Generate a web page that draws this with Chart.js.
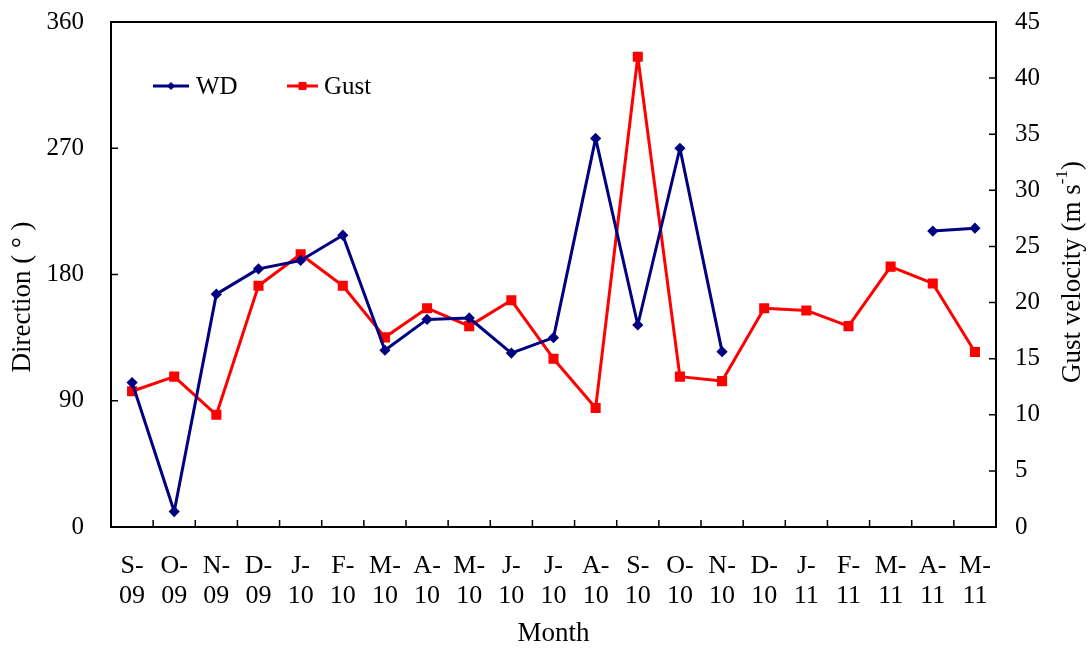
<!DOCTYPE html>
<html>
<head>
<meta charset="utf-8">
<script src="https://cdn.jsdelivr.net/npm/chart.js@4.4.1/dist/chart.umd.min.js"></script>
<style>
  body { margin: 0; background: #fff; }
  #wrap { width: 1088px; height: 648px; }
</style>
</head>
<body>
<div id="wrap"><canvas id="chart" width="1088" height="648"></canvas></div>
<script>
// data
const months = [
  ['S-', '09'], ['O-', '09'], ['N-', '09'], ['D-', '09'], ['J-', '10'], ['F-', '10'], ['M-', '10'],
  ['A-', '10'], ['M-', '10'], ['J-', '10'], ['J-', '10'], ['A-', '10'], ['S-', '10'], ['O-', '10'],
  ['N-', '10'], ['D-', '10'], ['J-', '11'], ['F-', '11'], ['M-', '11'], ['A-', '11'], ['M-', '11']
];
const windDir = [103, 11, 166, 184, 190, 208, 126, 148, 149, 124, 135, 277, 144, 270, 125, null, null, null, null, 211, 213];
const gust = [12.1, 13.4, 10.0, 21.5, 24.3, 21.5, 16.9, 19.5, 17.9, 20.2, 15.0, 10.6, 41.9, 13.4, 13.0, 19.5, 19.3, 17.9, 23.2, 21.7, 15.6];
const dirTicks = { min: 0, max: 360, step: 90 };
const gustTicks = { min: 0, max: 45, step: 5 };

const FONT = '"Liberation Serif", "Times New Roman", serif';
const NAVY = '#000080';
const RED = '#ff0000';

// inward tick marks + frame (Excel style)
const framePlugin = {
  id: 'frame',
  afterDraw(chart) {
    const ctx = chart.ctx;
    const a = chart.chartArea;
    const tl = 7;
    ctx.save();
    ctx.strokeStyle = '#000';
    ctx.lineWidth = 1.5;
    ctx.beginPath();
    const y = chart.scales.y;
    y.ticks.forEach(t => {
      const py = y.getPixelForValue(t.value);
      ctx.moveTo(a.left, py); ctx.lineTo(a.left + tl, py);
    });
    const y1 = chart.scales.y1;
    y1.ticks.forEach(t => {
      const py = y1.getPixelForValue(t.value);
      ctx.moveTo(a.right - tl, py); ctx.lineTo(a.right, py);
    });
    const x = chart.scales.x;
    for (let i = 1; i < months.length; i++) {
      const px = (x.getPixelForValue(i - 1) + x.getPixelForValue(i)) / 2;
      ctx.moveTo(px, a.bottom); ctx.lineTo(px, a.bottom - tl);
    }
    ctx.stroke();
    ctx.lineWidth = 2;
    ctx.strokeRect(a.left, a.top, a.right - a.left, a.bottom - a.top);
    ctx.restore();
  }
};

// axis titles, right one has a superscript
const titlePlugin = {
  id: 'titles',
  afterDraw(chart) {
    const ctx = chart.ctx;
    const a = chart.chartArea;
    ctx.save();
    ctx.fillStyle = '#000';
    ctx.font = '27px ' + FONT;
    ctx.textAlign = 'center';
    ctx.textBaseline = 'middle';
    ctx.fillText('Month', (a.left + a.right) / 2, 634);

    ctx.save();
    ctx.translate(23, 297);
    ctx.rotate(-Math.PI / 2);
    ctx.fillText('Direction ( ° )', 0, 0);
    ctx.restore();

    ctx.save();
    ctx.translate(1073, 272);
    ctx.rotate(-Math.PI / 2);
    const p1 = 'Gust velocity (m s', sup = '-1', p2 = ')';
    ctx.font = '27px ' + FONT;
    const w1 = ctx.measureText(p1).width;
    const w3 = ctx.measureText(p2).width;
    ctx.font = '17px ' + FONT;
    const w2 = ctx.measureText(sup).width;
    let sx = -(w1 + w2 + w3) / 2;
    ctx.textAlign = 'left';
    ctx.font = '27px ' + FONT;
    ctx.fillText(p1, sx, 0);
    ctx.font = '17px ' + FONT;
    ctx.fillText(sup, sx + w1, -10);
    ctx.font = '27px ' + FONT;
    ctx.fillText(p2, sx + w1 + w2, 0);
    ctx.restore();
    ctx.restore();
  }
};

// legend drawn inside the plot, top-left
const legendPlugin = {
  id: 'innerLegend',
  afterDraw(chart) {
    const ctx = chart.ctx;
    const items = [
      { label: 'WD', color: NAVY, x0: 153, x1: 189, tx: 196, style: 'rectRot', r: 3.5 },
      { label: 'Gust', color: RED, x0: 287, x1: 318, tx: 324, style: 'rect', r: 5 }
    ];
    const ly = 86;
    ctx.save();
    items.forEach(it => {
      ctx.strokeStyle = it.color;
      ctx.lineWidth = 3;
      ctx.beginPath();
      ctx.moveTo(it.x0, ly); ctx.lineTo(it.x1, ly);
      ctx.stroke();
      ctx.fillStyle = it.color;
      ctx.lineWidth = 1;
      Chart.helpers.drawPoint(ctx, { pointStyle: it.style, radius: it.r, borderWidth: 1, rotation: 0 }, (it.x0 + it.x1) / 2, ly);
      ctx.fillStyle = '#000';
      ctx.font = '25px ' + FONT;
      ctx.textAlign = 'left';
      ctx.textBaseline = 'middle';
      ctx.fillText(it.label, it.tx, ly + 1);
    });
    ctx.restore();
  }
};

const xFont = { family: FONT, size: 26, lineHeight: 1.15 };
const yFont = { family: FONT, size: 25 };

// keep the plot box where the figure has it: fixed axis sizes, no label overhang padding
function fixY(width) {
  return s => { s.width = width; s.paddingTop = 0; s.paddingBottom = 0; };
}

new Chart(document.getElementById('chart'), {
  type: 'line',
  data: {
    labels: months,
    datasets: [
      {
        label: 'WD',
        data: windDir,
        yAxisID: 'y',
        borderColor: NAVY,
        backgroundColor: NAVY,
        borderWidth: 3,
        borderJoinStyle: 'round',
        pointStyle: 'rectRot',
        pointRadius: 3.5,
        spanGaps: false,
        tension: 0
      },
      {
        label: 'Gust',
        data: gust,
        yAxisID: 'y1',
        borderColor: RED,
        backgroundColor: RED,
        borderWidth: 3,
        borderJoinStyle: 'round',
        pointStyle: 'rect',
        pointRadius: 5,
        tension: 0
      }
    ]
  },
  options: {
    responsive: false,
    animation: false,
    layout: { padding: { top: 22 } },
    plugins: { legend: { display: false }, tooltip: { enabled: false } },
    scales: {
      x: {
        offset: true,
        grid: { display: false, drawTicks: false },
        border: { display: false },
        ticks: { font: xFont, color: '#000', padding: 24, maxRotation: 0, autoSkip: false },
        afterFit(s) { s.height = 121; s.paddingLeft = 0; s.paddingRight = 0; }
      },
      y: {
        position: 'left',
        min: dirTicks.min, max: dirTicks.max,
        grid: { display: false, drawTicks: false },
        border: { display: false },
        ticks: { stepSize: dirTicks.step, font: yFont, color: '#000', padding: 27 },
        afterFit: fixY(111)
      },
      y1: {
        position: 'right',
        min: gustTicks.min, max: gustTicks.max,
        grid: { display: false, drawTicks: false },
        border: { display: false },
        ticks: { stepSize: gustTicks.step, font: yFont, color: '#000', padding: 19 },
        afterFit: fixY(92)
      }
    }
  },
  plugins: [framePlugin, titlePlugin, legendPlugin]
});
</script>
</body>
</html>
